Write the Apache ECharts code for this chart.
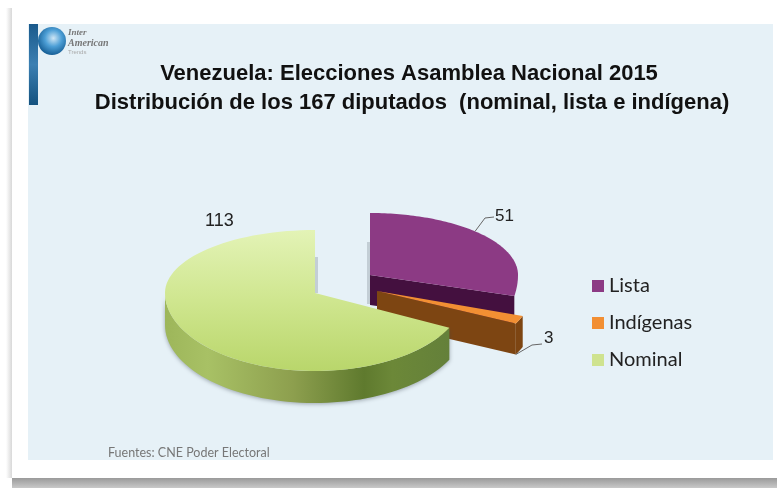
<!DOCTYPE html>
<html><head><meta charset="utf-8">
<style>html,body{margin:0;padding:0;background:#fff}#c{width:777px;height:488px}</style>
<script src="https://cdn.jsdelivr.net/npm/echarts@6/dist/echarts.min.js"></script>
</head><body><div id="c"></div>
<script>
const categories = ['Lista', 'Indígenas', 'Nominal'];
const seriesValues = [51, 3, 113];
const titleLines = ['Venezuela: Elecciones Asamblea Nacional 2015', ' Distribución de los 167 diputados  (nominal, lista e indígena)'];
const sourceNote = 'Fuentes: CNE Poder Electoral';
const logoLines = ['Inter', 'American', 'Trends'];

const total = seriesValues.reduce((a, b) => a + b, 0);
const topGreen = {type:'linear',x:0,y:0,x2:0,y2:1,colorStops:[{offset:0,color:'#e3f3b6'},{offset:.5,color:'#cfe68f'},{offset:1,color:'#b9d66b'}]};
const sideGreen = {type:'linear',x:0,y:0,x2:1,y2:0,colorStops:[{offset:0,color:'#9db65a'},{offset:.15,color:'#a8c165'},{offset:.45,color:'#8d9f4e'},{offset:.7,color:'#5f7a2e'},{offset:.8,color:'#6c8838'},{offset:1,color:'#64803a'}]};
const layouts = [
  {cx:370, cy:275, rx:148, ryB:62, ryF:95, depth:30, warp:.935, wall:false,
   top:'#8c3a84', cut:'#44103f', labelPos:[495,216], font:'17px "Liberation Sans"',
   leader:[[485,218],[494,217]], anchorFrac:.44,
   shadow:[367,242,3,62]},
  {cx:377, cy:291, rx:155, ryB:73, ryF:73, depth:31, warp:1, wall:true,
   top:'#f28f33', side:'#7d4512', cut:'#7d4512', labelPos:[544,338], font:'17px "Liberation Sans"',
   leader:[[532,345],[542,344]], anchorFrac:1, anchorBottom:true},
  {cx:315, cy:293, rx:150, ryB:63, ryF:78, depth:32, warp:1, wall:true,
   top:topGreen, side:sideGreen, labelPos:[205,221], font:'18px "Liberation Sans"',
   shadow:[315,257,3,36], wallShadow:true}
];

function pt(l, a) {
  const c = Math.cos(a);
  return [l.cx + l.rx * Math.sin(a), l.cy - (c > 0 ? l.ryB : l.ryF) * c];
}
function arc(l, a0, a1, n) {
  const p = [];
  for (let i = 0; i <= n; i++) p.push(pt(l, a0 + (a1 - a0) * i / n));
  return p;
}
function makeItem(idx) {
  return function (params, api) {
    const v = api.value(0);
    let before = 0;
    for (let i = 0; i < idx; i++) before += seriesValues[i];
    const l = layouts[idx], d = l.depth, kids = [];
    const a0 = before / total * 2 * Math.PI * l.warp, a1 = (before + v) / total * 2 * Math.PI * l.warp;
    const down = p => [p[0], p[1] + d];
    const rim = arc(l, a0, a1, 90);
    if (l.shadow) {
      kids.push({type:'rect', shape:{x:l.shadow[0], y:l.shadow[1], width:l.shadow[2], height:l.shadow[3]},
        style:{fill:'#c3ced5'}});
    }
    const fa0 = Math.max(a0, Math.PI / 2), fa1 = Math.min(a1, Math.PI * 1.5);
    if (l.wall && fa1 > fa0) {
      const w = arc(l, fa0, fa1, 60);
      const st = {fill:l.side};
      if (l.wallShadow) { st.shadowColor = 'rgba(60,70,80,.45)'; st.shadowBlur = 4; st.shadowOffsetY = 1; }
      kids.push({type:'polygon', shape:{points:w.concat(w.map(down).reverse())}, style:st});
    }
    if (a1 < Math.PI) {
      const e = pt(l, a1), c = [l.cx, l.cy];
      kids.push({type:'polygon', shape:{points:[c, e, down(e), down(c)]}, style:{fill:l.cut}});
    }
    kids.push({type:'polygon', shape:{points:[[l.cx, l.cy]].concat(rim)}, style:{fill:l.top}});
    if (l.leader) {
      let anchor = pt(l, a0 + (a1 - a0) * l.anchorFrac);
      if (l.anchorBottom) anchor = down(anchor);
      kids.push({type:'polyline', shape:{points:[anchor].concat(l.leader)},
        style:{stroke:'#666', lineWidth:1, fill:null}});
    }
    kids.push({type:'text', style:{x:l.labelPos[0], y:l.labelPos[1], text:String(v), fill:'#222',
      font:l.font, align:'left', verticalAlign:'middle'}});
    return {type:'group', children:kids};
  };
}

const chart = echarts.init(document.getElementById('c'), null, {renderer:'canvas'});
const sheet = {type:'linear',x:0,y:0,x2:0,y2:1,colorStops:[{offset:0,color:'#1a5a8c'},{offset:.5,color:'#3b7fb2'},{offset:1,color:'#14527f'}]};
chart.setOption({
  animation:false,
  backgroundColor:'#ffffff',
  title:[
    {text:titleLines[0], left:404, top:58, textAlign:'center',
     textStyle:{fontFamily:'Liberation Sans', fontWeight:'bold', fontSize:22, color:'#111'}},
    {text:titleLines[1], left:404, top:87, textAlign:'center',
     textStyle:{fontFamily:'Liberation Sans', fontWeight:'bold', fontSize:22, color:'#111'}}
  ],
  legend:{
    data:categories, orient:'vertical', left:587, top:269, itemWidth:12, itemHeight:12, itemGap:13,
    icon:'rect', textStyle:{fontFamily:'Lato', fontSize:20, color:'#222', lineHeight:24}
  },
  graphic:[
    {type:'rect', z:-10, shape:{x:6,y:8,width:6,height:470}, style:{fill:{type:'linear',x:0,y:0,x2:1,y2:0,colorStops:[{offset:0,color:'#ffffff'},{offset:1,color:'#d8d8d8'}]}}, silent:true},
    {type:'rect', z:-10, shape:{x:12,y:478,width:765,height:10}, style:{fill:{type:'linear',x:0,y:0,x2:0,y2:1,colorStops:[{offset:0,color:'#9a9a9a'},{offset:1,color:'#c8c8c8'}]}}, silent:true},
    {type:'rect', z:-9, shape:{x:28,y:24,width:745,height:436}, style:{fill:'#e6f1f7'}, silent:true},
    {type:'rect', z:-8, shape:{x:29,y:24,width:9,height:81}, style:{fill:sheet}, silent:true},
    {type:'circle', z:-7, shape:{cx:52,cy:41,r:14}, silent:true,
     style:{fill:{type:'radial',x:.55,y:.4,r:.6,colorStops:[{offset:0,color:'#cfe6f5'},{offset:.5,color:'#4d9fd6'},{offset:1,color:'#175f96'}]}}},
    {type:'text', z:-7, silent:true, style:{x:68,y:33,text:logoLines[0],font:'italic bold 9px "Liberation Serif"',fill:'#777',verticalAlign:'middle'}},
    {type:'text', z:-7, silent:true, style:{x:68,y:43,text:logoLines[1],font:'italic bold 10px "Liberation Serif"',fill:'#777',verticalAlign:'middle'}},
    {type:'text', z:-7, silent:true, style:{x:68,y:52,text:logoLines[2],font:'6px "Liberation Sans"',fill:'#aaa',verticalAlign:'middle'}},
    {type:'text', silent:true, style:{x:108,y:453,text:sourceNote,font:'12.5px Lato',fill:'#777',verticalAlign:'middle'}}
  ],
  series:categories.map((name, i) => ({
    type:'custom', name, coordinateSystem:'none', renderItem:makeItem(i), z:2 + i,
    itemStyle:{color:i === 2 ? '#cfe38f' : layouts[i].top},
    data:[[seriesValues[i]]]
  }))
});
</script></body></html>
